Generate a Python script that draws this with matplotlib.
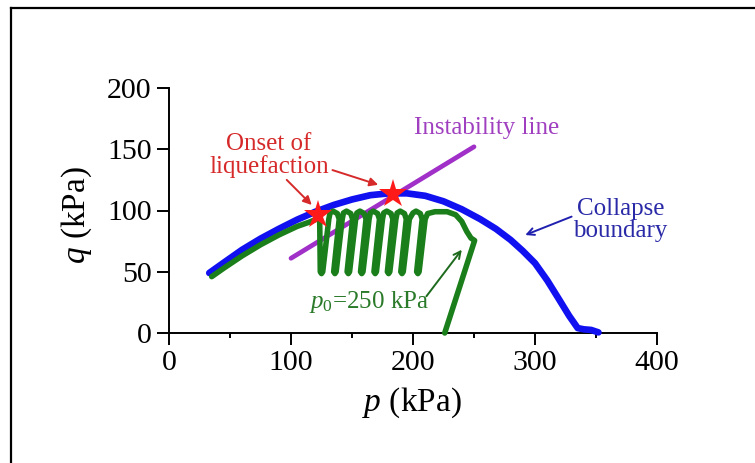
import matplotlib
matplotlib.use("Agg")
import matplotlib.pyplot as plt
from matplotlib.lines import Line2D

plt.rcParams['font.family'] = ['Liberation Serif', 'DejaVu Serif']
plt.rcParams['mathtext.fontset'] = 'custom'
plt.rcParams['mathtext.rm'] = 'Liberation Serif'
plt.rcParams['mathtext.it'] = 'Liberation Serif:italic'

# ---- data ----
collapse_p = [33, 45, 60, 75, 90, 105, 120, 135, 150, 165, 180, 195, 210, 225, 240,
              255, 268, 280, 290, 300, 310, 320, 328, 335, 340, 346, 352]
collapse_q = [49, 57.5, 68, 77, 85, 92.5, 99, 104.5, 109, 112.5, 114, 114, 112, 107.5, 101,
              93, 85, 76, 67, 57, 43, 27, 14, 4, 3, 2.5, 0.5]

instab_p = [100, 250]
instab_q = [61, 152]

green_p = [226, 250.5, 247.5, 244, 240, 235, 228, 218, 212,
           210, 205, 204, 203, 207.5, 206, 202.5, 200,
           197, 192, 191, 190, 194.5, 193, 189.5, 187,
           186, 181, 180, 179, 183.5, 182, 178.5, 176,
           175, 170, 169, 168, 172.5, 171, 167.5, 165,
           164, 159, 158, 157, 161.5, 160, 156.5, 154,
           153, 148, 147, 146, 150.5, 149, 145.5, 143,
           142, 137, 136, 135, 139.5, 138, 134.5, 132,
           131, 126, 125, 124, 123.5,
           115, 105, 90, 75, 60, 45, 35]
green_q = [0, 75.5, 77.5, 83, 91, 96.5, 99, 99, 97.5,
           93, 50, 48.5, 50, 93, 97.5, 99.5, 98,
           93, 50, 48.5, 50, 93, 97.5, 99.5, 98,
           93, 50, 48.5, 50, 93, 97.5, 99.5, 98,
           93, 50, 48.5, 50, 93, 97.5, 99.5, 98,
           93, 50, 48.5, 50, 93, 97.5, 99.5, 98,
           93, 50, 48.5, 50, 93, 97.5, 99.5, 98,
           93, 50, 48.5, 50, 93, 97.5, 99.5, 98,
           93, 50, 48.5, 50, 94,
           90.5, 87, 80, 72, 63, 53, 46]

onset_p = [122.5, 184]
onset_q = [96, 113.5]

xticks = [0, 100, 200, 300, 400]
yticks = [0, 50, 100, 150, 200]
xminor = [50, 150, 250, 350]

# ---- figure ----
W, H = 755, 463
fig = plt.figure(figsize=(W / 100, H / 100), dpi=100)
ax = fig.add_axes([169 / W, (H - 333) / H, 488 / W, 245 / H])

ax.plot(instab_p, instab_q, color='#a030c8', lw=3.4, solid_capstyle='round', zorder=2)
ax.plot(collapse_p, collapse_q, color='#1010f0', lw=4.8, solid_capstyle='round',
        solid_joinstyle='round', clip_on=False, zorder=3)
ax.plot(green_p, green_q, color='#1a7f1a', lw=4.0, solid_capstyle='round',
        solid_joinstyle='round', clip_on=False, zorder=4)
ax.plot(onset_p, onset_q, ls='none', marker='*', ms=21, color='#ff1a1a',
        markeredgewidth=0, zorder=5)

ax.set_xlim(0, 400)
ax.set_ylim(0, 200)
ax.set_xticks(xticks)
ax.set_yticks(yticks)
ax.set_xticks(xminor, minor=True)
for s in ['top', 'right']:
    ax.spines[s].set_visible(False)
for s in ['left', 'bottom']:
    ax.spines[s].set_linewidth(1.4)
ax.tick_params(which='major', direction='out', length=8.5, width=1.4,
               labelsize=21.5, pad=4, color='black')
ax.tick_params(which='minor', direction='out', length=3.5, width=1.4)

ax.set_xlabel('$p$ (kPa)', fontsize=24)
ax.xaxis.label.set_va('center')
ax.xaxis.set_label_coords(0.498, -0.285)
ax.set_ylabel('$q$ (kPa)', fontsize=24)
ax.yaxis.label.set_va('center')
ax.yaxis.set_label_coords(-0.19, 0.48)

# annotations
red = '#d62a2a'
ax.text(82, 145, 'Onset of\nliquefaction', color=red, fontsize=18, ha='center',
        va='center', linespacing=1.0)
ax.annotate('', xy=(117, 104.5), xytext=(96.5, 125),
            arrowprops=dict(arrowstyle='-|>,head_length=0.5,head_width=0.25',
                            color=red, lw=1.4, shrinkA=0, shrinkB=0))
ax.annotate('', xy=(171.5, 121), xytext=(134, 133),
            arrowprops=dict(arrowstyle='-|>,head_length=0.5,head_width=0.25',
                            color=red, lw=1.4, shrinkA=0, shrinkB=0))

ax.text(260, 167, 'Instability line', color='#a040c0', fontsize=18,
        ha='center', va='center')

ax.text(370, 92, 'Collapse\nboundary', color='#2a2aa8', fontsize=18,
        ha='center', va='center', linespacing=1.0)
ax.annotate('', xy=(292, 80), xytext=(330, 95),
            arrowprops=dict(arrowstyle='->,head_length=0.5,head_width=0.25',
                            color='#2020b0', lw=1.4, shrinkA=0, shrinkB=0))

ax.text(164, 25, '$p_0$=250 kPa', color='#2a7a2a', fontsize=18,
        ha='center', va='center')
ax.annotate('', xy=(240, 68), xytext=(211, 30),
            arrowprops=dict(arrowstyle='->,head_length=0.5,head_width=0.25',
                            color='#1d6a1d', lw=1.4, shrinkA=0, shrinkB=0))

# frame around the picture
fig.add_artist(Line2D([11 / W, 11 / W], [0, 1 - 7.5 / H], color='black', lw=1.6,
                      transform=fig.transFigure))
fig.add_artist(Line2D([11 / W, 1], [1 - 7.5 / H, 1 - 7.5 / H], color='black', lw=1.6,
                      transform=fig.transFigure))

fig.savefig('out.png', dpi=100)
